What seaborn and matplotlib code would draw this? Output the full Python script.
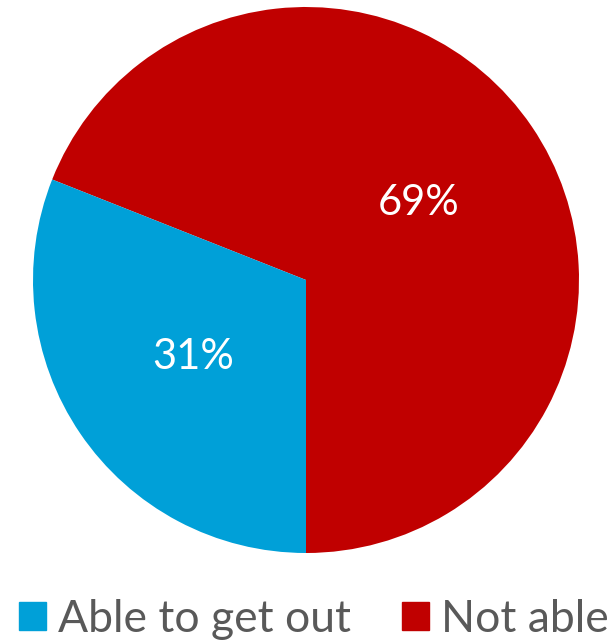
import matplotlib
matplotlib.use("Agg")
import matplotlib.pyplot as plt
import matplotlib.patches as mpatches
import seaborn as sns

sns.set_theme(style="white")
plt.rcParams['font.family'] = ['Lato', 'DejaVu Sans']

categories = ["Not able", "Able to get out"]
values = [69, 31]
colors = ["#C00000", "#00A0D8"]
legend_order = ["Able to get out", "Not able"]

fig = plt.figure(figsize=(6.10, 6.42), dpi=100)
ax = fig.add_axes([33/610, 89/642, 546/610, 546/642])
wedges, texts, autotexts = ax.pie(values, colors=colors, startangle=-90, counterclock=True,
                                  autopct=lambda p: f"{p:.0f}%", pctdistance=0.5,
                                  wedgeprops=dict(linewidth=0),
                                  textprops=dict(color="white", fontsize=30))
ax.set_xlim(-1, 1)
ax.set_ylim(-1, 1)
ax.set_aspect("equal")
ax.axis("off")

cmap = dict(zip(categories, colors))
handles = [mpatches.Patch(color=cmap[c], label=c) for c in legend_order]
fig.legend(handles=handles, loc="center", bbox_to_anchor=(0.515, 1 - 619/642), ncol=2,
           frameon=False, fontsize=32, labelcolor="#595959",
           handlelength=0.61, handleheight=0.61, handletextpad=0.27, columnspacing=1.15,
           borderpad=0, borderaxespad=0)
fig.savefig("out.png", dpi=100)
